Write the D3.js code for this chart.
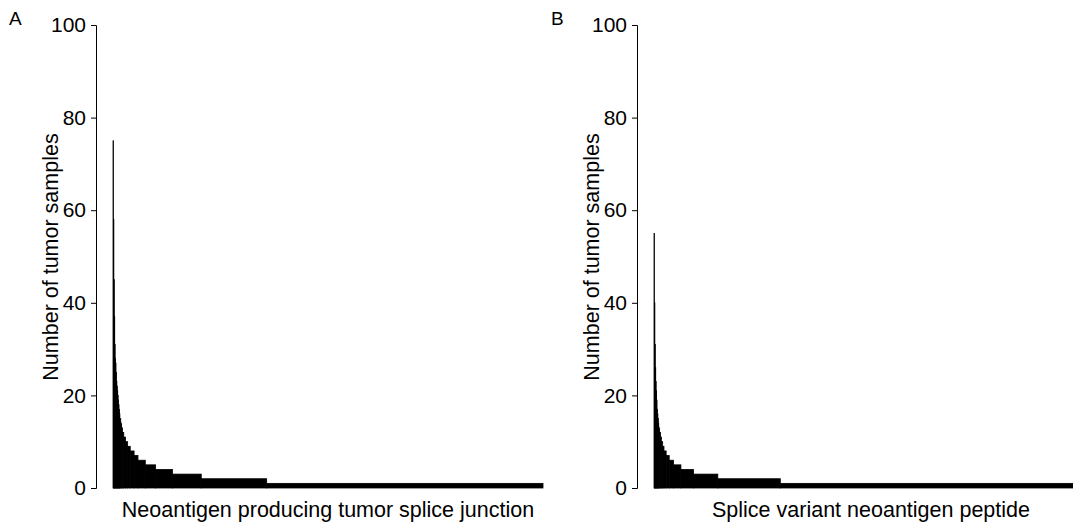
<!DOCTYPE html>
<html>
<head>
<meta charset="utf-8">
<script src="https://cdn.jsdelivr.net/npm/d3@7"></script>
<style>
  html, body { margin: 0; padding: 0; background: #fff; overflow: hidden; }
  svg { display: block; font-family: "Liberation Sans", Arial, Helvetica, sans-serif; }
</style>
</head>
<body>
<svg id="chart" width="1073" height="526"></svg>
<script>
// Panel A: number of tumor samples per neoantigen-producing splice junction (sorted, grouped by height)
const heightsA = [75, 58, 45, 37, 31, 28, 27, 25, 23, 22, 21, 20, 19, 18, 17, 16, 15, 14, 13, 12, 11, 10, 9, 8, 7, 6, 5, 4, 3, 2, 1];
const countsA  = [ 1,  1,  1,  1,  1,  1,  1,  1,  1,  1,  1,  1,  1,  1,  1,  1,  2,  2,  2,  3,  4,  5, 6, 9, 9, 17, 24, 39, 67, 152, 642];

// Panel B: number of tumor samples per splice variant neoantigen peptide
const heightsB = [55, 40, 31, 26, 23, 21, 19, 17, 16, 15, 14, 13, 12, 11, 10, 9, 8, 7, 6, 5, 4, 3, 2, 1];
const countsB  = [ 1,  1,  1,  1,  1,  1,  1,  1,  1,  1,  1,  2,  2,  2,  3, 3, 5, 7, 10, 17, 29, 56, 144, 709];

const yTicks = [0, 20, 40, 60, 80, 100];
const yTitle = "Number of tumor samples";
const panelLetters = ["A", "B"];
const xTitles = ["Neoantigen producing tumor splice junction", "Splice variant neoantigen peptide"];

const svg = d3.select("#chart");

const panels = [
  { heights: heightsA, counts: countsA, axisX: 96,  barL: 113, barR: 543,  letterX: 9,   titleX: 58 },
  { heights: heightsB, counts: countsB, axisX: 637, barL: 654, barR: 1088, letterX: 551, titleX: 599 }
];

const y = d3.scaleLinear().domain([0, 100]).range([488, 25]);

panels.forEach((p, pi) => {
  const total = d3.sum(p.counts);
  const x = d3.scaleLinear().domain([0, total]).range([p.barL, p.barR]);
  const cum = d3.cumsum(p.counts);
  const groups = p.heights.map((h, i) => ({ h, start: i === 0 ? 0 : cum[i - 1], end: cum[i], i }));

  const g = svg.append("g");

  // bars with a thin black border, as in the original barplot
  g.selectAll("rect.bar")
    .data(groups)
    .join("rect")
    .attr("class", "bar")
    .attr("x", d => x(d.start))
    .attr("width", d => x(d.end) - x(d.start))
    .attr("y", d => y(d.h))
    .attr("height", d => y(0) - y(d.h))
    .attr("fill", "#000")
    .attr("stroke", "#000")
    .attr("stroke-width", 0.8);

  // y axis
  const ax = g.append("g")
    .attr("transform", `translate(${p.axisX},0)`)
    .call(d3.axisLeft(y).tickValues(yTicks).tickSize(5).tickPadding(5).tickFormat(d3.format("d")));
  ax.select(".domain").attr("stroke", "#000");
  ax.selectAll(".tick line").attr("stroke", "#000");
  ax.selectAll(".tick text")
    .attr("fill", "#000")
    .style("font-size", "21px")
    .style("font-family", '"Liberation Sans", Arial, sans-serif');

  // y title
  g.append("text")
    .attr("transform", `translate(${p.titleX},257) rotate(-90)`)
    .attr("text-anchor", "middle")
    .style("font-size", "21.5px")
    .attr("fill", "#000")
    .text(yTitle);

  // x title
  g.append("text")
    .attr("x", (p.barL + p.barR) / 2)
    .attr("y", 517)
    .attr("text-anchor", "middle")
    .style("font-size", "21.5px")
    .attr("fill", "#000")
    .text(xTitles[pi]);

  // panel letter
  g.append("text")
    .attr("x", p.letterX)
    .attr("y", 25)
    .style("font-size", "19px")
    .attr("fill", "#000")
    .text(panelLetters[pi]);
});
</script>
</body>
</html>
